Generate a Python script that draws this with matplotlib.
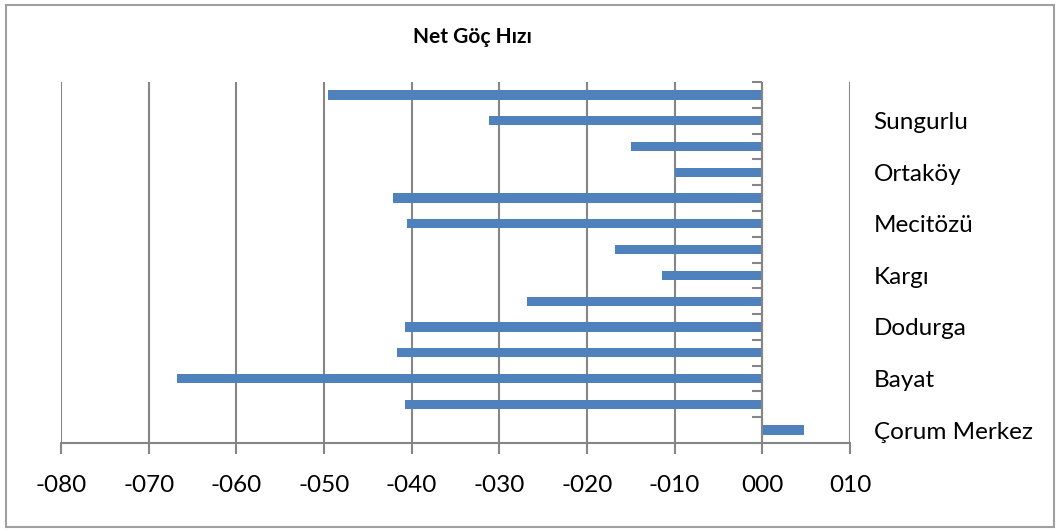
import matplotlib.pyplot as plt
from matplotlib.ticker import FuncFormatter, MultipleLocator
from matplotlib.patches import Rectangle

# districts, bottom to top as in the chart
districts = ["Çorum Merkez", "Alaca", "Bayat", "Boğazkale", "Dodurga", "İskilip", "Kargı",
             "Laçin", "Mecitözü", "Oğuzlar", "Ortaköy", "Osmancık", "Sungurlu", "Uğurludağ"]
net_goc = [4.7, -40.8, -66.8, -41.7, -40.8, -26.8, -11.5,
           -16.8, -40.5, -42.1, -10.0, -15.0, -31.2, -49.6]
shown_labels = [d if i % 2 == 0 else "" for i, d in enumerate(districts)]

plt.rcParams['font.family'] = ['Lato', 'DejaVu Sans']
grid_col = "#868686"

fig = plt.figure(figsize=(10.58, 5.31), dpi=100)
ax = fig.add_axes([61/1058, (531-443)/531, (850-61)/1058, (443-82)/531])

ypos = list(range(len(districts)))
ax.barh(ypos, net_goc, height=0.36, color="#4F81BD", zorder=3)

ax.set_xlim(-80, 10)
ax.set_ylim(-0.5, len(districts) - 0.5)
ax.xaxis.set_major_locator(MultipleLocator(10))
ax.xaxis.set_major_formatter(FuncFormatter(lambda v, p: ("-" if v < 0 else "") + "%03d" % abs(round(v))))
ax.grid(axis="x", color=grid_col, linewidth=1.5, zorder=0)
ax.tick_params(axis="x", length=8, width=1.5, color=grid_col, labelsize=17.5, pad=15)

for s in ["top", "right", "left"]:
    ax.spines[s].set_visible(False)
ax.spines["bottom"].set_color(grid_col)
ax.spines["bottom"].set_linewidth(1.5)

# category labels on the right, every other one
ax.yaxis.tick_right()
ax.set_yticks(ypos)
ax.set_yticklabels(shown_labels, ha="left")
ax.tick_params(axis="y", length=0, labelsize=17.5, pad=17)

# category axis line at zero with tick marks between categories
ax.axvline(0, color=grid_col, linewidth=1.5, zorder=4)
bounds = [i - 0.5 for i in range(len(districts) + 1)]
ax.plot([0] * len(bounds), bounds, linestyle="none", marker=0, markersize=7,
        markeredgewidth=1.5, color=grid_col, zorder=4, clip_on=False)

fig.text(472/1058, 1 - 37/531, "Net Göç Hızı", ha="center", va="center", fontsize=15, fontweight="bold")

fig.patches.append(Rectangle((6/1058, 4/531), 1048/1058, 522/531, transform=fig.transFigure,
                             fill=False, edgecolor="#A0A0A0", linewidth=1.5))

fig.savefig("out.png", dpi=100)
